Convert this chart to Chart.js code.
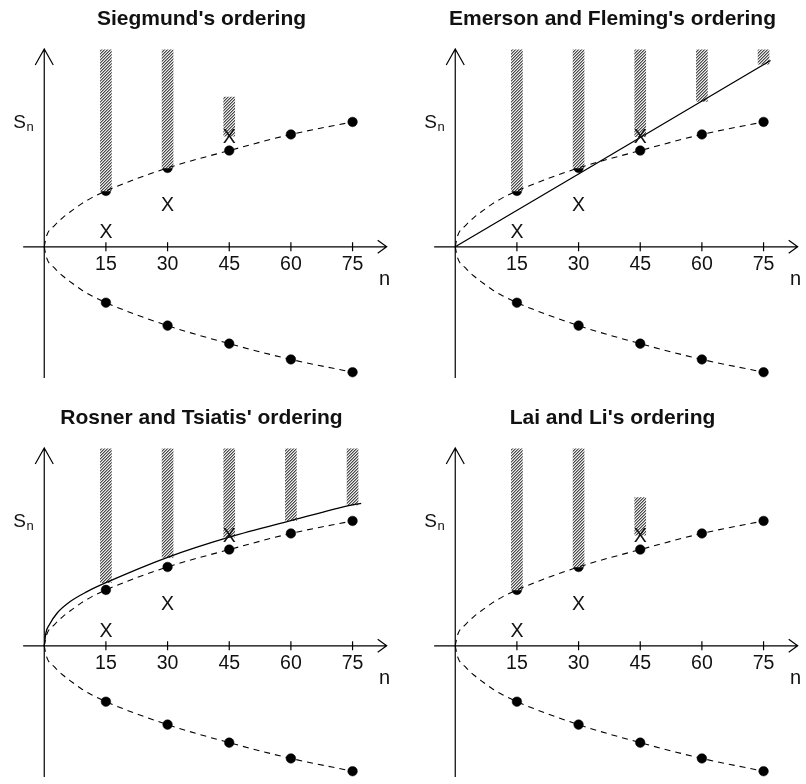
<!DOCTYPE html>
<html>
<head>
<meta charset="utf-8">
<script src="https://cdn.jsdelivr.net/npm/chart.js@4.4.1/dist/chart.umd.min.js"></script>
<style>
html,body{margin:0;padding:0;background:#fff;overflow:hidden;width:806px;height:784px;}
#wrap{position:relative;width:806px;height:784px;overflow:hidden;background:#fff;}
.cell{position:absolute;width:403px;height:392px;}
.cell canvas{display:block;width:403px;height:392px;}
</style>
</head>
<body>
<div id="wrap">
  <div class="cell" style="left:0;top:0"><canvas id="c1" width="403" height="392"></canvas></div>
  <div class="cell" style="left:411px;top:0"><canvas id="c2" width="403" height="392"></canvas></div>
  <div class="cell" style="left:0;top:399px"><canvas id="c3" width="403" height="392"></canvas></div>
  <div class="cell" style="left:411px;top:399px"><canvas id="c4" width="403" height="392"></canvas></div>
</div>
<script>
// ---------------- DATA ----------------
const titles = ["Siegmund's ordering", "Emerson and Fleming's ordering", "Rosner and Tsiatis' ordering", "Lai and Li's ordering"];
const nTicks = [15, 30, 45, 60, 75];
const tickLabels = ["15", "30", "45", "60", "75"];

// stopping boundary (dots) at the analyses
const upperBoundary = [7.77, 10.96, 13.38, 15.62, 17.36];
const lowerBoundary = [-7.77, -10.96, -13.47, -15.66, -17.44];
// dashed boundary curve between 0 and the first analysis
const nearN = [0, 0.5, 2.6, 4.6, 6.9, 9.1, 11.5];
const upperNear = [0, 1.4, 3.0, 4.1, 5.1, 6.0, 6.8];
const lowerNear = [0, -1.4, -3.0, -4.1, -5.1, -6.0, -6.8];

// observed sample path (X marks)
const obsN = [15, 30, 45];
const obsS = [2.23, 5.9, 15.37];

// hatched regions (more extreme outcomes) per ordering
const siegN = [15, 30, 45];
const siegLow = [7.77, 10.96, 15.37];
const siegHigh = [27.4, 27.4, 20.8];

const efN = [15, 30, 45, 60, 75];
const efLow = [7.77, 10.96, 15.3, 20.2, 25.4];
const efHigh = [27.4, 27.4, 27.4, 27.4, 27.4];
const efLineN = [0, 76.7];
const efLineS = [0, 25.9];

const rtN = [15, 30, 45, 60, 75];
const rtLow = [8.77, 12.3, 15.1, 17.4, 19.6];
const rtHigh = [27.4, 27.4, 27.4, 27.4, 27.4];
const rtCurveN = [0, 0.4, 1.2, 3.2, 6.3, 10.3, 15, 30, 45, 60, 75, 77.1];
const rtCurveS = [0, 1.8, 2.9, 4.6, 6.15, 7.5, 8.77, 12.3, 15.1, 17.4, 19.6, 19.8];

const llN = [15, 30, 45];
const llLow = [7.77, 10.96, 15.37];
const llHigh = [27.4, 27.4, 20.6];

// ---------------- helpers ----------------
const FONT = '"Liberation Sans", Arial, Helvetica, sans-serif';
const zip = (xs, ys) => xs.map((v, i) => ({x: v, y: ys[i]}));
const zipBar = (xs, lo, hi) => xs.map((v, i) => ({x: v, y: [lo[i], hi[i]]}));

function hatch() {
  const c = document.createElement('canvas');
  c.width = 3; c.height = 3;
  const g = c.getContext('2d');
  const cols = ['#4a4a4a', '#a0a0a0', '#ececec'];
  for (let px = 0; px < 3; px++) {
    for (let py = 0; py < 3; py++) {
      g.fillStyle = cols[(px + py) % 3];
      g.fillRect(px, py, 1, 1);
    }
  }
  return g.createPattern(c, 'repeat');
}

const axisPlugin = {
  id: 'sketchAxes',
  afterDatasetsDraw(chart) {
    const {ctx} = chart;
    const x = chart.scales.x, y = chart.scales.y;
    const x0 = x.getPixelForValue(0), y0 = y.getPixelForValue(0);
    const yt = y.getPixelForValue(27.5), yb = y.getPixelForValue(-18.25);
    const xl = x.getPixelForValue(-5.13), xr = x.getPixelForValue(83.3);
    ctx.save();
    ctx.strokeStyle = '#000';
    ctx.lineWidth = 1.2;
    ctx.setLineDash([]);
    ctx.beginPath();
    ctx.moveTo(x0, yb); ctx.lineTo(x0, yt);
    ctx.moveTo(x0 - 9, yt + 16); ctx.lineTo(x0, yt); ctx.lineTo(x0 + 9, yt + 16);
    ctx.moveTo(xl, y0); ctx.lineTo(xr, y0);
    ctx.moveTo(xr - 9, y0 - 6.5); ctx.lineTo(xr, y0); ctx.lineTo(xr - 9, y0 + 6.5);
    nTicks.forEach(v => {
      const px = x.getPixelForValue(v);
      ctx.moveTo(px, y0 - 4.5); ctx.lineTo(px, y0 + 4.5);
    });
    ctx.stroke();

    ctx.fillStyle = '#111';
    ctx.textBaseline = 'alphabetic';
    ctx.font = '19.5px ' + FONT;
    ctx.textAlign = 'center';
    nTicks.forEach((v, i) => ctx.fillText(tickLabels[i], x.getPixelForValue(v), y0 + 23));
    // axis titles
    ctx.font = '20px ' + FONT;
    ctx.fillText('n', xr - 2, y0 + 38);
    ctx.textAlign = 'left';
    ctx.font = '19px ' + FONT;
    const sx = x0 - 31;
    ctx.fillText('S', sx, y0 - 118.5);
    const sw = ctx.measureText('S').width;
    ctx.font = '13px ' + FONT;
    ctx.fillText('n', sx + sw + 0.5, y0 - 116);

    // observed path marks "X" placed at the library-computed point positions
    const idx = chart.data.datasets.findIndex(d => d.label === 'observed');
    if (idx >= 0) {
      const meta = chart.getDatasetMeta(idx);
      ctx.font = '19.5px ' + FONT;
      ctx.textAlign = 'center';
      meta.data.forEach(pt => ctx.fillText('X', pt.x, pt.y + 7));
    }
    ctx.restore();
  }
};

function makeChart(id, title, bars, extraLine) {
  const pattern = hatch();
  const datasets = [
    {label: 'observed', type: 'scatter', data: zip(obsN, obsS), pointRadius: 0, pointHoverRadius: 0, order: 0},
  ];
  if (extraLine) {
    datasets.push({label: 'boundary of ordering', type: 'line', data: extraLine,
      borderColor: '#000', borderWidth: 1.3, pointRadius: 0, fill: false,
      cubicInterpolationMode: 'monotone', order: 1});
  }
  datasets.push(
    {label: 'upper curve', type: 'line', data: zip(nearN.concat(nTicks), upperNear.concat(upperBoundary)),
      borderColor: '#000', borderWidth: 1.1, borderDash: [6, 5], pointRadius: 0, fill: false,
      cubicInterpolationMode: 'monotone', order: 2},
    {label: 'lower curve', type: 'line', data: zip(nearN.concat(nTicks), lowerNear.concat(lowerBoundary)),
      borderColor: '#000', borderWidth: 1.1, borderDash: [6, 5], pointRadius: 0, fill: false,
      cubicInterpolationMode: 'monotone', order: 3},
    {label: 'more extreme', type: 'bar', data: bars, backgroundColor: pattern, borderWidth: 0,
      barThickness: 11, grouped: false, order: 4},
    {label: 'upper dots', type: 'scatter', data: zip(nTicks, upperBoundary), pointRadius: 4.8,
      backgroundColor: '#000', borderColor: '#000', borderWidth: 0.5, order: 5},
    {label: 'lower dots', type: 'scatter', data: zip(nTicks, lowerBoundary), pointRadius: 4.8,
      backgroundColor: '#000', borderColor: '#000', borderWidth: 0.5, order: 6}
  );
  return new Chart(document.getElementById(id), {
    type: 'scatter',
    data: {datasets},
    options: {
      responsive: false,
      animation: false,
      events: [],
      layout: {padding: 0},
      plugins: {
        legend: {display: false},
        tooltip: {enabled: false},
        title: {display: true, text: title, color: '#111',
          font: {family: FONT, size: 21, weight: 'bold', lineHeight: 1.2},
          padding: {top: 7, bottom: 0}}
      },
      scales: {
        x: {type: 'linear', display: false, min: -9.474, max: 85.98, offset: false},
        y: {type: 'linear', display: false, min: -19.452, max: 29.836}
      }
    },
    plugins: [axisPlugin]
  });
}

makeChart('c1', titles[0], zipBar(siegN, siegLow, siegHigh), null);
makeChart('c2', titles[1], zipBar(efN, efLow, efHigh), zip(efLineN, efLineS));
makeChart('c3', titles[2], zipBar(rtN, rtLow, rtHigh), zip(rtCurveN, rtCurveS));
makeChart('c4', titles[3], zipBar(llN, llLow, llHigh), null);
</script>
</body>
</html>
